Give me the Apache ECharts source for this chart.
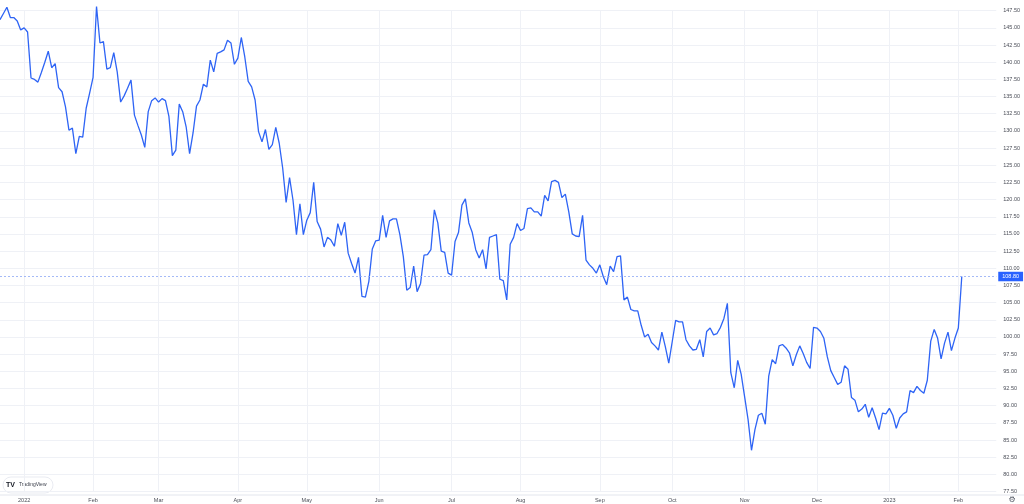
<!DOCTYPE html>
<html>
<head>
<meta charset="utf-8">
<script src="https://cdn.jsdelivr.net/npm/echarts@6/dist/echarts.min.js"></script>
<style>
html,body{margin:0;padding:0;background:#fff;}
#chart{width:1024px;height:504px;}
</style>
</head>
<body>
<div id="chart"></div>
<script>
// Trading calendar (US market holidays in range)
const startDate = '2021-12-22';
const endDate = '2023-02-02';
const holidays = ['2021-12-24','2022-01-17','2022-02-21','2022-04-15','2022-05-30','2022-06-20','2022-07-04','2022-09-05','2022-11-24','2022-12-26','2023-01-02','2023-01-16'];
const monthNames = ['Jan','Feb','Mar','Apr','May','Jun','Jul','Aug','Sep','Oct','Nov','Dec'];
const rightPadBars = 10;

// Close values, one per trading day (Dec 2021 - Feb 2023)
const closeDec2021 = [146.2,147.1,148.0,146.5,146.5,146.0,144.7];
const close2022H1 = [
145.0,144.4,137.7,137.5,137.1,138.5,140.0,141.6,139.2,139.8,136.3,135.7,133.5,130.1,130.4,126.7,129.2,129.1,133.3,135.5,
137.8,148.1,142.8,143.0,139.0,139.2,141.4,138.6,134.2,135.1,136.2,137.4,132.3,130.8,129.4,127.6,132.8,134.4,134.8,
134.2,134.7,134.4,132.1,126.4,127.2,133.9,132.8,130.6,126.7,129.7,133.6,134.5,136.8,136.4,140.3,138.6,141.3,141.5,141.8,143.2,142.8,139.7,
140.6,143.6,140.8,137.2,136.4,134.5,129.9,128.4,130.2,127.3,128.0,130.5,128.2,124.6,119.6,123.2,119.9,114.9,119.4,114.9,
117.0,118.1,122.5,116.8,115.7,113.1,114.5,114.1,113.2,116.5,114.8,116.7,112.2,110.7,109.3,111.6,105.9,105.8,108.1,112.8,114.0,
114.1,117.7,114.5,116.9,117.2,117.2,114.9,111.7,106.8,107.2,110.3,106.6,107.8,111.9,112.0,112.7,118.5,116.6,112.5,112.3,109.3
];
const close2022H2 = [
109.0,113.9,115.2,119.2,120.1,116.6,115.2,112.7,111.5,112.7,109.9,114.5,114.7,114.9,108.4,108.2,105.4,113.5,114.5,116.5,
115.5,115.8,118.7,118.8,118.2,118.2,117.6,120.6,119.8,122.6,122.8,122.5,120.3,120.8,118.2,115.0,114.7,114.6,117.7,111.2,110.5,110.0,109.3,
110.5,108.8,107.6,110.3,109.5,111.7,111.8,105.4,105.8,104.0,103.8,103.8,101.7,100.0,100.4,99.2,98.7,98.1,100.7,98.6,96.2,
99.3,102.4,102.2,102.2,99.6,98.7,98.1,98.2,99.6,97.1,100.8,101.3,100.3,100.5,101.4,102.7,104.9,94.8,92.6,96.6,94.6,
91.3,88.0,83.5,86.5,88.6,88.9,87.3,94.3,96.7,96.1,98.7,98.9,98.4,97.7,95.8,97.4,98.7,97.6,96.3,95.4,101.4,
101.3,100.8,99.8,97.1,95.1,94.1,93.1,93.4,95.8,95.3,91.2,90.8,89.1,89.5,90.2,88.3,89.7,88.2,86.5,88.9,88.8
];
const close2023 = [
89.6,88.6,86.7,88.2,88.8,89.1,92.2,91.9,92.8,92.2,91.8,93.7,99.4,101.1,99.8,96.8,99.1,100.7,98.0,99.8,
101.3,108.8
];
const lastPrice = 108.80;
const yTickMin = 77.5, yTickMax = 147.5, yTickStep = 2.5;

function tradingDays(start, end) {
  const out = [];
  let d = new Date(start + 'T00:00:00Z');
  const e = new Date(end + 'T00:00:00Z');
  while (d <= e) {
    const dow = d.getUTCDay();
    const s = d.toISOString().slice(0, 10);
    if (dow !== 0 && dow !== 6 && holidays.indexOf(s) < 0) out.push(s);
    d = new Date(d.getTime() + 86400000);
  }
  return out;
}

const dates = tradingDays(startDate, endDate);
const values = closeDec2021.concat(close2022H1, close2022H2, close2023);
const categories = dates.slice();
for (let k = 1; k <= rightPadBars; k++) categories.push('pad' + k);

function isMonthStart(idx) {
  if (idx <= 0 || idx >= dates.length) return false;
  return dates[idx].slice(0, 7) !== dates[idx - 1].slice(0, 7);
}

const chart = echarts.init(document.getElementById('chart'), null, {renderer: 'canvas'});
const fontFam = '"Liberation Sans", Arial, sans-serif';
const textCol = '#4a4d57';
const gridCol = '#eff1f6';

chart.setOption({
  animation: false,
  backgroundColor: '#ffffff',
  grid: {left: -1.47, right: 27.75, top: 10.7, bottom: 12.5, containLabel: false},
  xAxis: {
    type: 'category',
    data: categories,
    boundaryGap: false,
    axisLine: {show: false},
    axisTick: {show: false},
    axisLabel: {
      interval: function (idx) { return isMonthStart(idx); },
      formatter: function (v) {
        const m = parseInt(v.slice(5, 7), 10);
        return m === 1 ? v.slice(0, 4) : monthNames[m - 1];
      },
      margin: 6,
      fontSize: 5.5,
      fontFamily: fontFam,
      color: textCol
    },
    splitLine: {
      show: true,
      interval: function (idx) { return isMonthStart(idx); },
      lineStyle: {color: gridCol, width: 1}
    }
  },
  yAxis: {
    type: 'value',
    position: 'right',
    min: yTickMin,
    max: yTickMax,
    interval: yTickStep,
    axisLine: {show: false},
    axisTick: {show: false},
    axisLabel: {
      formatter: function (v) { return v.toFixed(2); },
      margin: 7,
      fontSize: 5.5,
      fontFamily: fontFam,
      color: textCol
    },
    splitLine: {show: true, lineStyle: {color: gridCol, width: 1}}
  },
  series: [{
    type: 'line',
    data: values,
    showSymbol: false,
    symbol: 'none',
    clip: false,
    lineStyle: {color: '#2e64f5', width: 1.3},
    markLine: {
      silent: true,
      symbol: 'none',
      lineStyle: {color: '#8fa9f5', type: [2, 2], width: 0.8},
      label: {
        show: true,
        position: 'end',
        distance: 2,
        formatter: lastPrice.toFixed(2),
        backgroundColor: '#2962ff',
        color: '#ffffff',
        fontSize: 5.5,
        fontFamily: fontFam,
        padding: [2, 4, 1.5, 4]
      },
      data: [{yAxis: lastPrice}]
    }
  }],
  graphic: [
    {type: 'line', shape: {x1: 0, y1: 495, x2: 1024, y2: 495}, style: {stroke: '#e3e6ed', lineWidth: 1}, silent: true},
    {type: 'rect', shape: {x: 3, y: 477, width: 50, height: 16, r: 8}, style: {fill: '#ffffff', stroke: '#e3e6ed', lineWidth: 0.8}, silent: true},
    {type: 'text', x: 6, y: 485, style: {text: 'TV', fontSize: 7, fontWeight: 'bold', fontFamily: fontFam, fill: '#131722', verticalAlign: 'middle'}, silent: true},
    {type: 'text', x: 19, y: 485, style: {text: 'TradingView', fontSize: 5, fontFamily: fontFam, fill: '#3a3e4a', verticalAlign: 'middle'}, silent: true},
    {type: 'text', x: 1012, y: 500, style: {text: '⚙', fontSize: 8, fontFamily: '"DejaVu Sans", sans-serif', fill: '#555a66', align: 'center', verticalAlign: 'middle'}, silent: true}
  ]
});
</script>
</body>
</html>
